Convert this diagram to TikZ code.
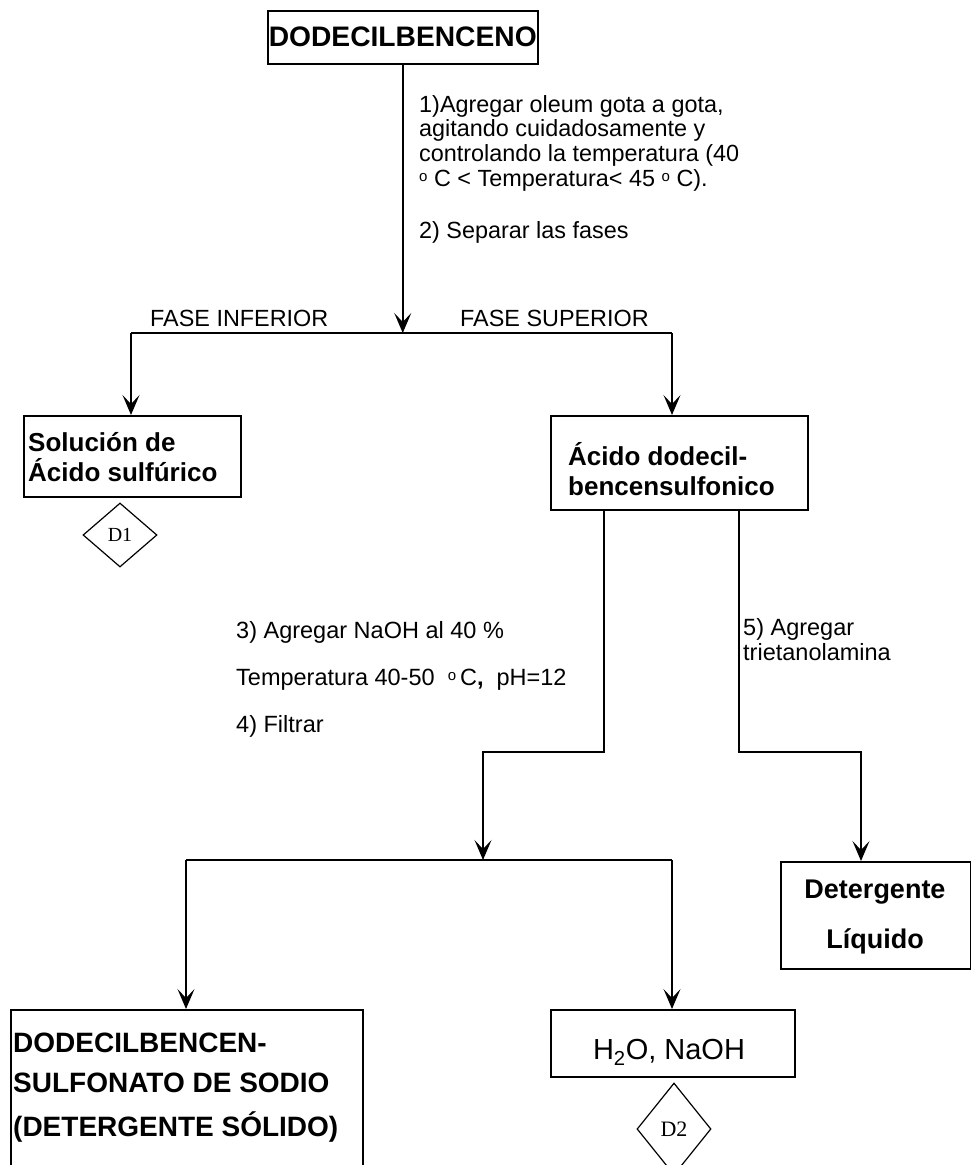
\documentclass[tikz,border=0pt]{standalone}
\usepackage{fontspec}
\setmainfont{Liberation Sans}
\newfontfamily\serifd{Liberation Serif}
\usetikzlibrary{arrows.meta,shapes.geometric}
\newcommand{\gradsup}{{\fontsize{15}{15}\selectfont\raisebox{5pt}{o}}}
\begin{document}
\begin{tikzpicture}[x=1pt,y=-1pt,
  box/.style={draw,line width=1.5pt,inner sep=0pt,anchor=north west},
  ln/.style={line width=1.6pt},
  arr/.style={ln,-{Stealth[length=20pt,width=17pt,inset=9pt]}},
  ann/.style={font=\fontsize{23.4}{24.8}\selectfont,inner sep=0pt,align=left,anchor=north west},
  btx/.style={font=\bfseries\fontsize{26}{30}\selectfont,inner sep=0pt,align=left,anchor=north west},
  dia/.style={draw,diamond,line width=1.2pt,inner sep=0pt}]
\useasboundingbox (0,0) rectangle (971,1165);

% boxes
\node[box,minimum width=270pt,minimum height=53pt,font=\bfseries\fontsize{28.2}{30}\selectfont] (dode) at (267,10) {DODECILBENCENO};
\node[box,minimum width=217pt,minimum height=81pt] (sol) at (23,415) {};
\node[btx] (soltxt) at (28,432) {Solución de\\Ácido sulfúrico};
\node[box,minimum width=257pt,minimum height=94pt] (acido) at (550,415) {};
\node[btx] (acidotxt) at (568,442) {Ácido dodecil-\\bencensulfonico};
\node[box,minimum width=190pt,minimum height=107pt] (det) at (780,861) {};
\node[font=\bfseries\fontsize{27}{50}\selectfont,inner sep=0pt,align=center,anchor=north] (dettxt) at (875,880) {Detergente\\Líquido};
\node[box,minimum width=244pt,minimum height=67pt] (h2o) at (550,1009) {};
\node[font=\fontsize{29}{30}\selectfont,inner sep=0pt,anchor=north] (h2otxt) at (669,1039) {H\textsubscript{2}O, NaOH};
\node[box,minimum width=352pt,minimum height=175pt] (sod) at (10,1009) {};
\node[btx,font=\bfseries\fontsize{28}{40}\selectfont] (sodtxt) at (13,1033) {DODECILBENCEN-\\SULFONATO DE SODIO\\[4pt](DETERGENTE SÓLIDO)};

% diamonds
\node[dia,minimum width=74pt,minimum height=64pt,font=\serifd\fontsize{20}{22}\selectfont] (d1) at (120,535) {D1};
\node[dia,minimum width=74pt,minimum height=92pt,font=\serifd\fontsize{22}{24}\selectfont] (d2) at (674,1129) {D2};

% annotations
\node[ann] (paso1) at (419,95) {1)Agregar oleum gota a gota,\\agitando cuidadosamente y\\controlando la temperatura (40\\\gradsup\ C < Temperatura< 45 \gradsup\ C).};
\node[ann] (paso2) at (419,221) {2) Separar las fases};
\node[ann] (finf) at (150,310) {FASE INFERIOR};
\node[ann] (fsup) at (460,310) {FASE SUPERIOR};
\node[ann,font=\fontsize{23.5}{47}\selectfont] (paso3) at (236,621) {3) Agregar NaOH al 40 \%\\Temperatura 40-50\ \ \gradsup\,C\textbf{,}\ \ pH=12\\4) Filtrar};
\node[ann,font=\fontsize{23.5}{25}\selectfont] (paso5) at (743,618) {5) Agregar\\trietanolamina};

% junction points
\coordinate (jL) at (131,333);
\coordinate (jR) at (672,333);
\coordinate (k1) at (604,752);
\coordinate (k2) at (483,752);
\coordinate (r1) at (739,752);
\coordinate (r2) at (861,752);
\coordinate (mL) at (186,860);
\coordinate (mR) at (672,860);

% connectors
\draw[arr] (dode.south) -- (dode.south |- jL);
\draw[ln] (jL) -- (jR);
\draw[arr] (jL) -- (jL |- sol.north);
\draw[arr] (jR) -- (jR |- acido.north);
\draw[arr] (k1 |- acido.south) -- (k1) -- (k2) -- (k2 |- mL);
\draw[arr] (r1 |- acido.south) -- (r1) -- (r2) -- (r2 |- det.north);
\draw[ln] (mL) -- (mR);
\draw[arr] (mL) -- (mL |- sod.north);
\draw[arr] (mR) -- (mR |- h2o.north);
\end{tikzpicture}
\end{document}
